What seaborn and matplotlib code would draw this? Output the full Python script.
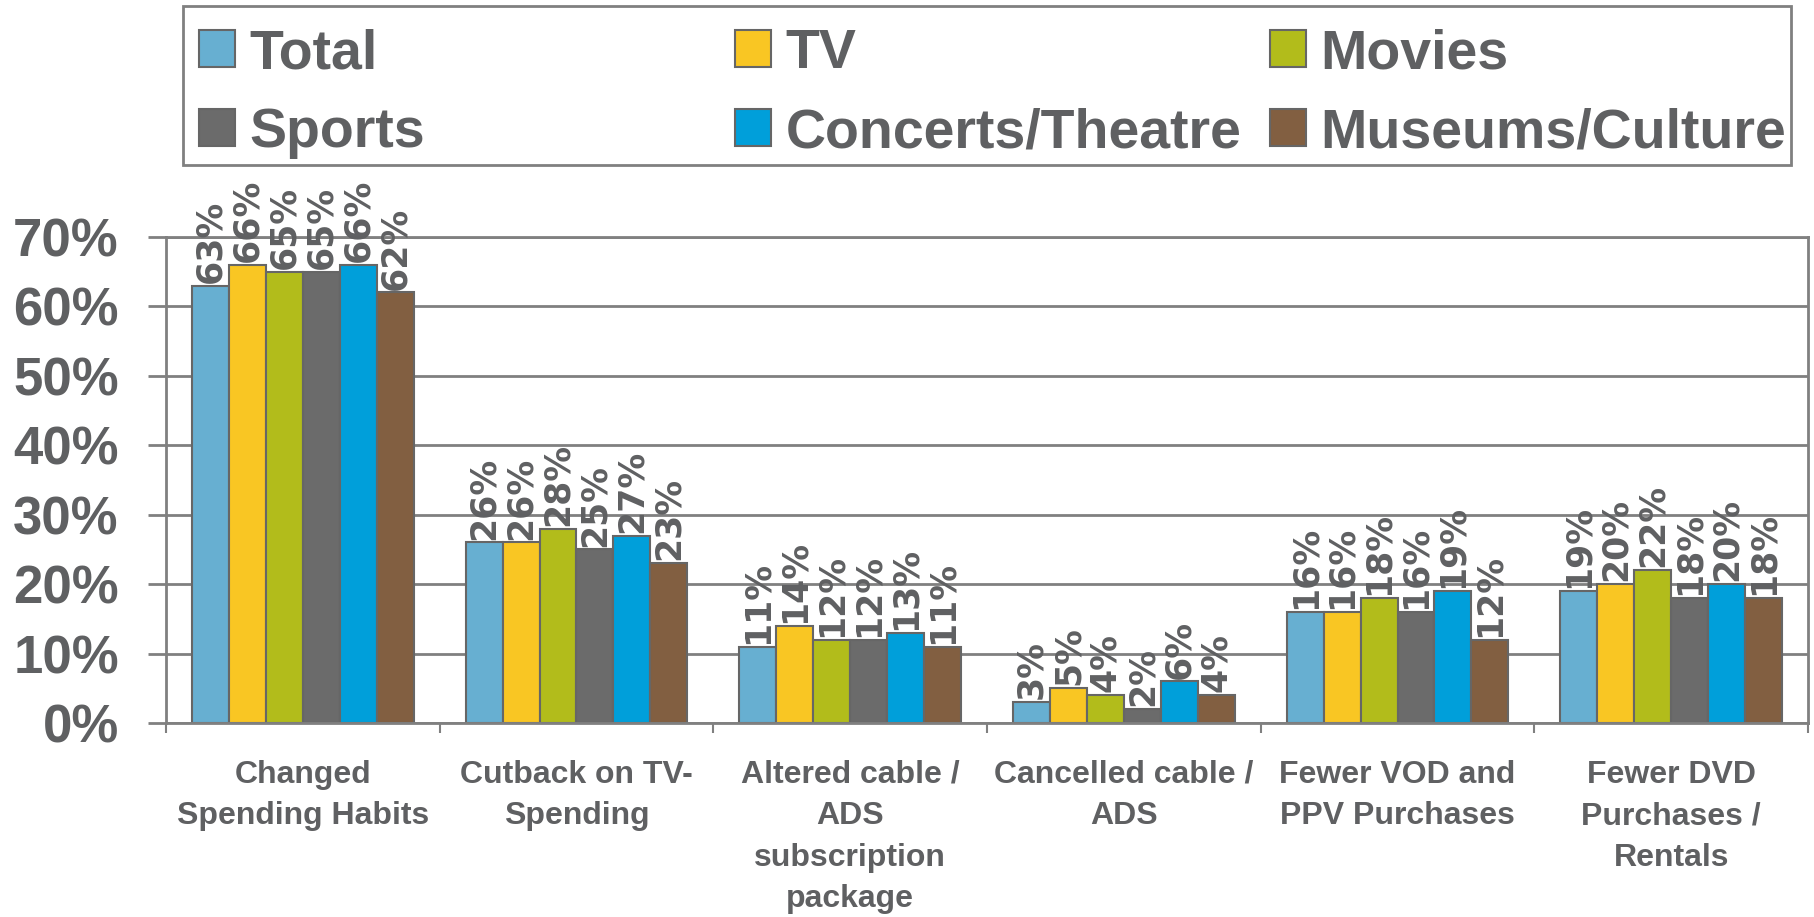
import pandas as pd
import matplotlib
matplotlib.use("Agg")
import matplotlib.pyplot as plt
import seaborn as sns
from matplotlib.patches import Patch, Rectangle

# --- Datos ---
categorias = [
    "Changed\nSpending Habits",
    "Cutback on TV-\nSpending",
    "Altered cable /\nADS\nsubscription\npackage",
    "Cancelled cable /\nADS",
    "Fewer VOD and\nPPV Purchases",
    "Fewer DVD\nPurchases /\nRentals",
]
series = ["Total", "TV", "Movies", "Sports", "Concerts/Theatre", "Museums/Culture"]
total = [63, 26, 11, 3, 16, 19]
tv = [66, 26, 14, 5, 16, 20]
movies = [65, 28, 12, 4, 18, 22]
sports = [65, 25, 12, 2, 16, 18]
concerts = [66, 27, 13, 6, 19, 20]
museums = [62, 23, 11, 4, 12, 18]
y_ticks = [0, 10, 20, 30, 40, 50, 60, 70]

colores = ["#67AFD1", "#F9C623", "#B2BC1B", "#6B6B6B", "#009FDA", "#825F41"]
gris = "#5F6062"
borde = "#666666"

valores = [total, tv, movies, sports, concerts, museums]
filas = []
for s, vals in zip(series, valores):
    for c, v in zip(categorias, vals):
        filas.append({"categoria": c, "serie": s, "valor": v})
df = pd.DataFrame(filas)

sns.set_style("white")
plt.rcParams["font.family"] = ["Liberation Sans", "DejaVu Sans"]
plt.rcParams["font.weight"] = "bold"

fig = plt.figure(figsize=(18.14, 9.17), dpi=100)
ax = fig.add_axes([0.0915, 0.2116, 0.9052, 0.5300])

sns.barplot(data=df, x="categoria", y="valor", hue="serie", order=categorias,
            hue_order=series, palette=colores, saturation=1, width=0.81,
            edgecolor=borde, linewidth=1.5, legend=False, ax=ax)

# etiquetas de valor rotadas (fuente ancha para imitar el espaciado)
for cont in ax.containers:
    ax.bar_label(cont, labels=[f"{b.get_height():.0f}%" for b in cont],
                 rotation=90, padding=2, fontsize=25, color=gris,
                 fontweight="bold", family=["DejaVu Sans"], clip_on=False)

# --- Ejes ---
ax.set_ylim(0, 70)
ax.set_xlim(-0.5, len(categorias) - 0.5)
ax.set_yticks(y_ticks)
ax.set_yticklabels([f"{v}%" for v in y_ticks])
ax.set_xticks(range(len(categorias)))
ax.set_xticklabels(categorias, linespacing=1.5)
ax.set_xticks([i - 0.5 for i in range(len(categorias) + 1)], minor=True)
ax.set_xlabel("")
ax.set_ylabel("")

ax.yaxis.grid(True, color="#808080", linewidth=2)
ax.set_axisbelow(True)
for sp in ax.spines.values():
    sp.set_visible(True)
    sp.set_color("#808080")
    sp.set_linewidth(2)

ax.tick_params(axis="y", left=True, length=13, width=2, color="#808080",
               pad=21, labelsize=38, labelcolor=gris)
ax.tick_params(axis="x", which="major", bottom=False, pad=23,
               labelsize=23, labelcolor=gris)
ax.tick_params(axis="x", which="minor", bottom=True, length=7, width=1.5,
               color="#808080", direction="out")
for t in ax.get_xticklabels() + ax.get_yticklabels():
    t.set_fontweight("bold")

# --- Leyenda (tres columnas de igual ancho) ---
fig.patches.append(Rectangle((0.1009, 0.820), 0.8864, 0.1734,
                             transform=fig.transFigure, fill=False,
                             edgecolor="#808080", linewidth=2))
handles = [Patch(facecolor=c, edgecolor=borde, linewidth=1.5, label=s)
           for s, c in zip(series, colores)]
columnas = [(0.1097, [0, 3]), (0.4052, [1, 4]), (0.7001, [2, 5])]
for x, idx in columnas:
    leg = fig.legend(handles=[handles[i] for i in idx], loc="upper left",
                     bbox_to_anchor=(x, 0.969), frameon=False, fontsize=40,
                     handlelength=0.65, handleheight=0.65, handletextpad=0.26,
                     labelspacing=0.48, borderpad=0, borderaxespad=0)
    for t in leg.get_texts():
        t.set_color(gris)
        t.set_fontweight("bold")

fig.savefig("out.png", dpi=100)
